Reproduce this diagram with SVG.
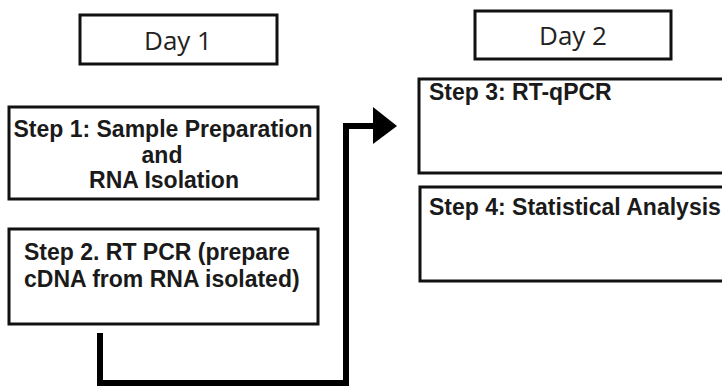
<svg xmlns="http://www.w3.org/2000/svg" width="722" height="389" viewBox="0 0 722 389">
<style>
.box{fill:#fff;stroke:#111;stroke-width:3}
.day{font-family:"Open Sans","Liberation Sans",sans-serif;font-size:26px;fill:#222}
.step{font-family:"Liberation Sans",Arial,sans-serif;font-weight:bold;font-size:23px;fill:#1a1a1a}
.conn{fill:none;stroke:#000;stroke-width:6;stroke-linejoin:miter}
</style>
<rect width="722" height="389" fill="#fff"/>
<g id="day1">
<rect class="box" x="80" y="15" width="197" height="49"/>
<text class="day" x="178" y="50" text-anchor="middle">Day 1</text>
</g>
<g id="day2">
<rect class="box" x="475" y="11" width="196" height="48"/>
<text class="day" x="573" y="45" text-anchor="middle">Day 2</text>
</g>
<g id="step1">
<rect class="box" x="9" y="107" width="309" height="92"/>
<text class="step" text-anchor="middle"><tspan x="163" y="137">Step 1: Sample Preparation</tspan><tspan x="162" y="163">and</tspan><tspan x="164" y="188">RNA Isolation</tspan></text>
</g>
<g id="step2">
<rect class="box" x="9" y="229" width="309" height="95"/>
<text class="step"><tspan x="24" y="260">Step 2. RT PCR (prepare</tspan><tspan x="24" y="287">cDNA from RNA isolated)</tspan></text>
</g>
<g id="step3">
<rect class="box" x="419" y="79" width="320" height="94"/>
<text class="step" x="429" y="100">Step 3: RT-qPCR</text>
</g>
<g id="step4">
<rect class="box" x="420" y="187" width="320" height="94"/>
<text class="step" x="429" y="215">Step 4: Statistical Analysis</text>
</g>
<g id="connectors">
<polyline class="conn" points="100,333 100,383 346,383 346,126 375,126"/>
<polygon points="373,107 397,126 373,144" fill="#000"/>
</g>
</svg>
